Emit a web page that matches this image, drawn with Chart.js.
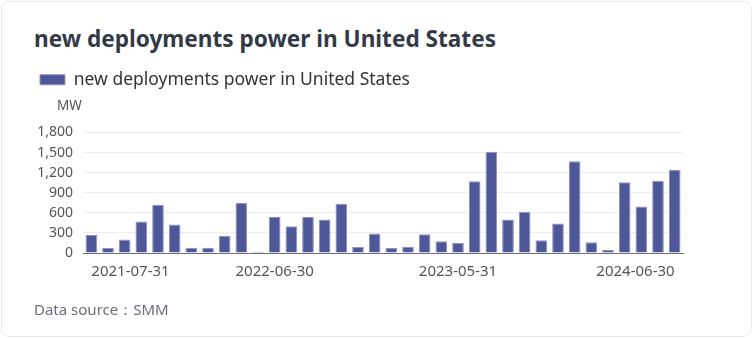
<!DOCTYPE html>
<html>
<head>
<meta charset="utf-8">
<script src="https://cdn.jsdelivr.net/npm/chart.js@4/dist/chart.umd.min.js"></script>
<style>
  html, body { margin: 0; padding: 0; background: #fff; }
  body { width: 753px; height: 338px; position: relative; overflow: hidden; font-family: "Noto Sans", "Open Sans", sans-serif; }
  .card { position: absolute; left: 1px; top: 1px; width: 749px; height: 334px; border: 1px solid #e8e8f0; border-radius: 8px; }
  .title { position: absolute; left: 34px; top: 23px; font-size: 22.6px; font-weight: bold; color: #333a47; white-space: nowrap; }
  .unit { position: absolute; left: 57px; top: 96px; font-size: 13.5px; color: #555; }
  .source { position: absolute; left: 34px; top: 299px; font-size: 15px; color: #6b6f7c; }
  #chartWrap { position: absolute; left: 0; top: 0; width: 753px; height: 301px; }
</style>
</head>
<body>
<div class="card"></div>
<div class="title">new deployments power in United States</div>
<div id="chartWrap"><canvas id="chart"></canvas></div>
<div class="unit">MW</div>
<div class="source">Data source：SMM</div>
<script>
// Monthly month-end dates, Jul 2021 .. Jun 2024
const months = [
  '2021-07-31', '2021-08-31', '2021-09-30', '2021-10-31', '2021-11-30', '2021-12-31',
  '2022-01-31', '2022-02-28', '2022-03-31', '2022-04-30', '2022-05-31', '2022-06-30',
  '2022-07-31', '2022-08-31', '2022-09-30', '2022-10-31', '2022-11-30', '2022-12-31',
  '2023-01-31', '2023-02-28', '2023-03-31', '2023-04-30', '2023-05-31', '2023-06-30',
  '2023-07-31', '2023-08-31', '2023-09-30', '2023-10-31', '2023-11-30', '2023-12-31',
  '2024-01-31', '2024-02-29', '2024-03-31', '2024-04-30', '2024-05-31', '2024-06-30'
];

// New deployments power, MW
const deployments = [
  270, 75, 200, 470, 720, 425,
  78, 78, 255, 750, 20, 537,
  400, 537, 500, 734, 88, 290,
  73, 93, 279, 176, 151, 1071,
  1512, 499, 616, 191, 440, 1370,
  161, 44, 1057, 694, 1081, 1242
];

// Only these dates get an x-axis label
const shownLabels = ['2021-07-31', '2022-06-30', '2023-05-31', '2024-06-30'];

// Y-axis range
const yMin = 0;
const yMax = 1800;
const yStep = 300;

const seriesName = 'new deployments power in United States';

// Push the plot area down below the legend
const legendMargin = {
  id: 'legendMargin',
  beforeInit(chart) {
    const fit = chart.legend.fit;
    chart.legend.fit = function () {
      fit.bind(chart.legend)();
      this.height += 34;
    };
  }
};

const ctx = document.getElementById('chart').getContext('2d');
new Chart(ctx, {
  type: 'bar',
  data: {
    labels: months,
    datasets: [{
      label: seriesName,
      data: deployments,
      backgroundColor: '#4e5797',
      borderColor: '#8d93c2',
      borderWidth: 1,
      borderSkipped: 'bottom',
      barPercentage: 0.7,
      categoryPercentage: 1
    }]
  },
  plugins: [legendMargin],
  options: {
    responsive: true,
    maintainAspectRatio: false,
    animation: false,
    layout: { padding: { left: 30, right: 70, top: 61, bottom: 10 } },
    plugins: {
      legend: {
        display: true,
        align: 'start',
        labels: {
          boxWidth: 25,
          boxHeight: 10,
          padding: 10,
          color: '#333',
          font: { family: 'Noto Sans', size: 17.5 }
        }
      },
      tooltip: { enabled: false }
    },
    scales: {
      x: {
        grid: { display: false, drawTicks: false },
        border: { display: true, color: '#6e7079', width: 1 },
        ticks: {
          autoSkip: false,
          maxRotation: 0,
          align: 'inner',
          padding: 10,
          color: '#555',
          font: { family: 'Noto Sans', size: 15 },
          callback: function (value) {
            const label = this.getLabelForValue(value);
            return shownLabels.includes(label) ? label : '';
          }
        }
      },
      y: {
        min: yMin,
        max: yMax,
        afterFit: (scale) => { scale.width = 53; },
        grid: { color: '#eeeeee', lineWidth: 1, drawTicks: false },
        border: { display: false },
        ticks: {
          autoSkip: false,
          stepSize: yStep,
          padding: 10,
          color: '#555',
          font: { family: 'Noto Sans', size: 14 },
          callback: (v) => v.toLocaleString('en-US')
        }
      }
    }
  }
});
</script>
</body>
</html>
